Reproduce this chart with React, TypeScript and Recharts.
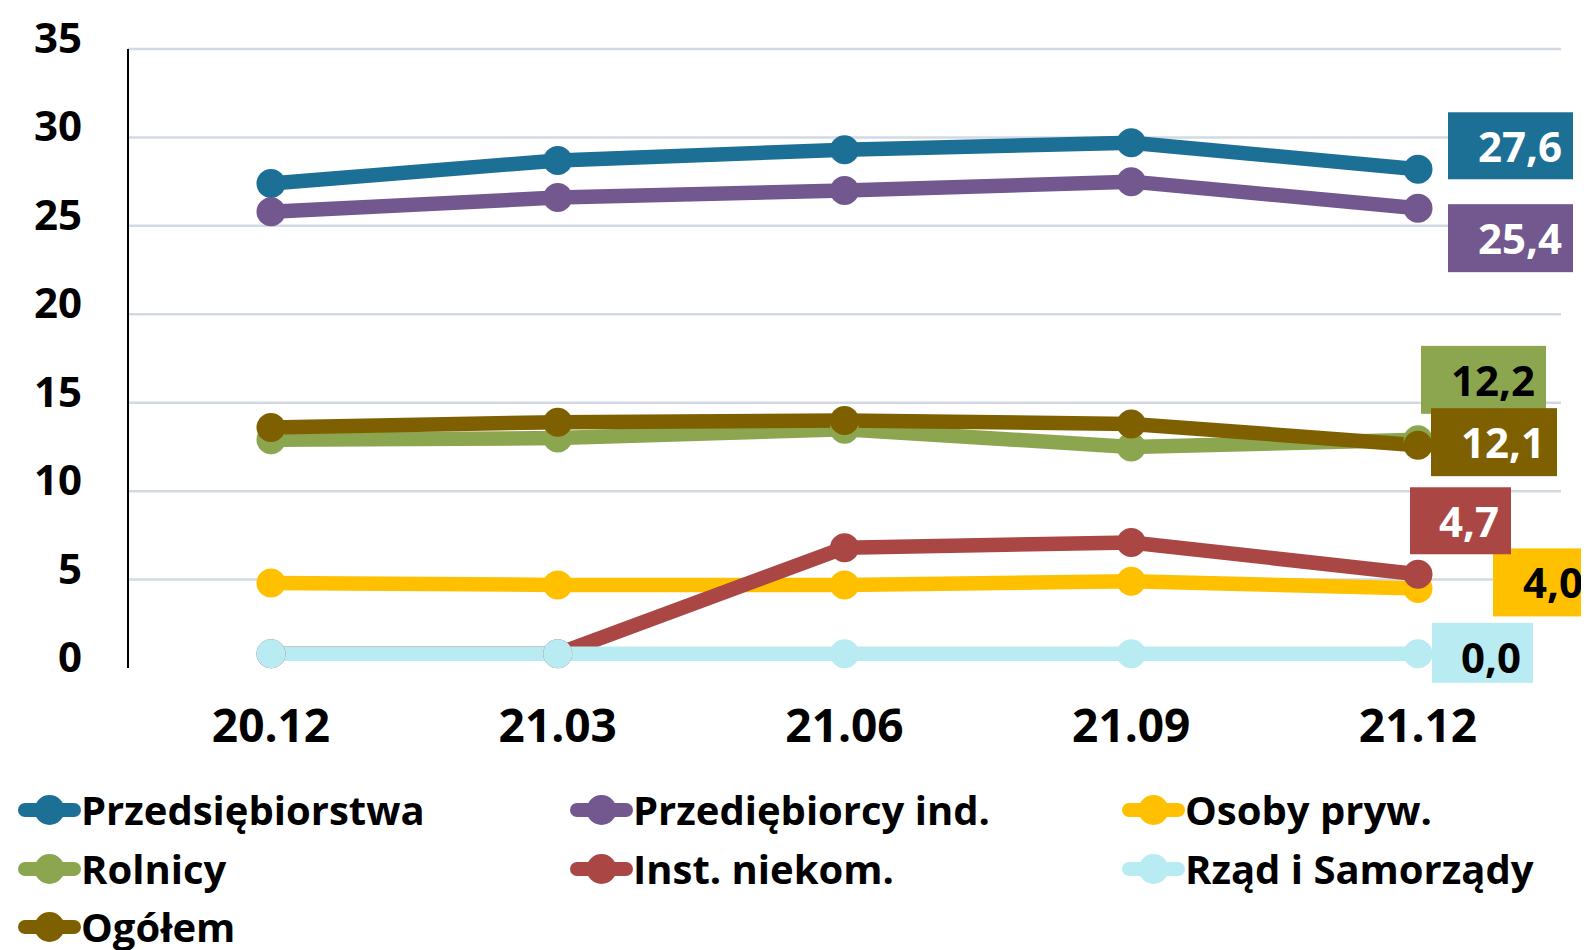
import React from 'react';
import { LineChart, Line, XAxis, YAxis, CartesianGrid, Legend, LabelList } from 'recharts';

// okresy (koniec kwartału)
const okresy = ['20.12', '21.03', '21.06', '21.09', '21.12'];

// wartości
const przedsiebiorstwa = [27.4, 28.7, 29.3, 29.7, 28.2];
const przedsiebiorcyInd = [25.8, 26.6, 27.0, 27.5, 26.0];
const osobyPryw = [4.8, 4.7, 4.7, 4.9, 4.5];
const rolnicy = [12.9, 13.0, 13.5, 12.5, 12.9];
const instNiekom = [0.8, 0.8, 6.8, 7.1, 5.3];
const rzadSamorzady = [0.8, 0.8, 0.8, 0.8, 0.8];
const ogolem = [13.6, 13.9, 14.0, 13.8, 12.6];

// etykiety przy ostatnim punkcie
const etykiety = ['27,6', '25,4', '4,0', '12,2', '4,7', '0,0', '12,1'];

const yTicks = [0, 5, 10, 15, 20, 25, 30, 35];
const gridValues = [5, 10, 15, 20, 25, 30, 35];

const data = okresy.map((okres, i) => ({
  okres,
  przedsiebiorstwa: przedsiebiorstwa[i],
  przedsiebiorcyInd: przedsiebiorcyInd[i],
  osobyPryw: osobyPryw[i],
  rolnicy: rolnicy[i],
  instNiekom: instNiekom[i],
  rzadSamorzady: rzadSamorzady[i],
  ogolem: ogolem[i],
}));

const FONT = '"Open Sans", "Noto Sans", sans-serif';

const serie = [
  { key: 'przedsiebiorstwa', name: 'Przedsiębiorstwa', color: '#1C7096', text: '#fff', box: { dx: 30, dy: -57, w: 125, h: 67, tx: 114 } },
  { key: 'przedsiebiorcyInd', name: 'Przediębiorcy ind.', color: '#72588E', text: '#fff', box: { dx: 30, dy: -4, w: 125, h: 68, tx: 114 } },
  { key: 'osobyPryw', name: 'Osoby pryw.', color: '#FFC000', text: '#000', box: { dx: 75, dy: -40, w: 130, h: 68, tx: 90 } },
  { key: 'rolnicy', name: 'Rolnicy', color: '#8BA64F', text: '#000', box: { dx: 3, dy: -94, w: 125, h: 68, tx: 114 } },
  { key: 'instNiekom', name: 'Inst. niekom.', color: '#AA4744', text: '#fff', box: { dx: -8, dy: -87, w: 101, h: 67, tx: 89 } },
  { key: 'rzadSamorzady', name: 'Rząd i Samorządy', color: '#B8EBF2', text: '#000', box: { dx: 14, dy: -31, w: 101, h: 60, tx: 89 } },
  { key: 'ogolem', name: 'Ogółem', color: '#7F6000', text: '#fff', box: { dx: 13, dy: -37, w: 126, h: 68, tx: 114 } },
];

const YTick = (props: any) => {
  const { x, y, payload } = props;
  return (
    <text x={x} y={y + 4} textAnchor="end" fontFamily={FONT} fontWeight={700} fontSize={42} fill="#000">
      {payload.value}
    </text>
  );
};

const XTick = (props: any) => {
  const { x, y, payload } = props;
  return (
    <text x={x} y={y + 74} textAnchor="middle" fontFamily={FONT} fontWeight={700} fontSize={46} fill="#000">
      {payload.value}
    </text>
  );
};

const makeLabel = (idx: number) => (props: any) => {
  const { x, y, index } = props;
  if (index !== okresy.length - 1) return null;
  const s = serie[idx];
  const b = s.box;
  return (
    <g>
      <rect x={x + b.dx} y={y + b.dy} width={b.w} height={b.h} fill={s.color} />
      <text
        x={x + b.dx + b.tx}
        y={y + b.dy + 50}
        textAnchor="end"
        fontFamily={FONT}
        fontWeight={700}
        fontSize={42}
        fill={s.text}
      >
        {etykiety[idx]}
      </text>
    </g>
  );
};

const renderLegend = () => (
  <div
    style={{
      display: 'grid',
      gridTemplateColumns: '552px 552px 467px',
      paddingLeft: 10,
      fontFamily: FONT,
      fontWeight: 700,
      fontSize: 40,
      color: '#000',
    }}
  >
    {serie.map((s) => (
      <div key={s.key} style={{ display: 'flex', alignItems: 'center', height: 58.5 }}>
        <svg width={63} height={32} style={{ flex: 'none' }}>
          <line x1={7} y1={16} x2={56} y2={16} stroke={s.color} strokeWidth={14} strokeLinecap="round" />
          <circle cx={31.5} cy={16} r={15} fill={s.color} />
        </svg>
        <span style={{ lineHeight: 1, whiteSpace: 'nowrap' }}>{s.name}</span>
      </div>
    ))}
  </div>
);

export default function App() {
  return (
    <LineChart width={1581} height={942} data={data} margin={{ top: 41, right: 28, left: 0, bottom: 222 }}>
      <CartesianGrid vertical={false} stroke="#D3D9E3" strokeWidth={2.5} horizontalValues={gridValues} />
      <XAxis
        dataKey="okres"
        padding={{ left: 143, right: 143 }}
        axisLine={false}
        tickLine={false}
        tickSize={0}
        tickMargin={0}
        height={60}
        interval={0}
        tick={XTick}
      />
      <YAxis
        domain={[0, 35]}
        ticks={yTicks}
        width={120}
        tick={YTick}
        tickLine={false}
        tickSize={0}
        tickMargin={46}
        axisLine={{ stroke: '#000', strokeWidth: 2 }}
      />
      <Legend
        layout="horizontal"
        verticalAlign="middle"
        align="center"
        content={renderLegend}
        wrapperStyle={{ top: 773, left: 0, width: 1581 }}
      />
      {serie.map((s, i) => (
        <Line
          key={s.key}
          type="linear"
          dataKey={s.key}
          name={s.name}
          stroke={s.color}
          strokeWidth={14.5}
          strokeLinejoin="round"
          dot={{ r: 14.5, fill: s.color, stroke: 'none', strokeWidth: 0 }}
          activeDot={false}
          isAnimationActive={false}
        >
          <LabelList dataKey={s.key} content={makeLabel(i)} />
        </Line>
      ))}
    </LineChart>
  );
}
